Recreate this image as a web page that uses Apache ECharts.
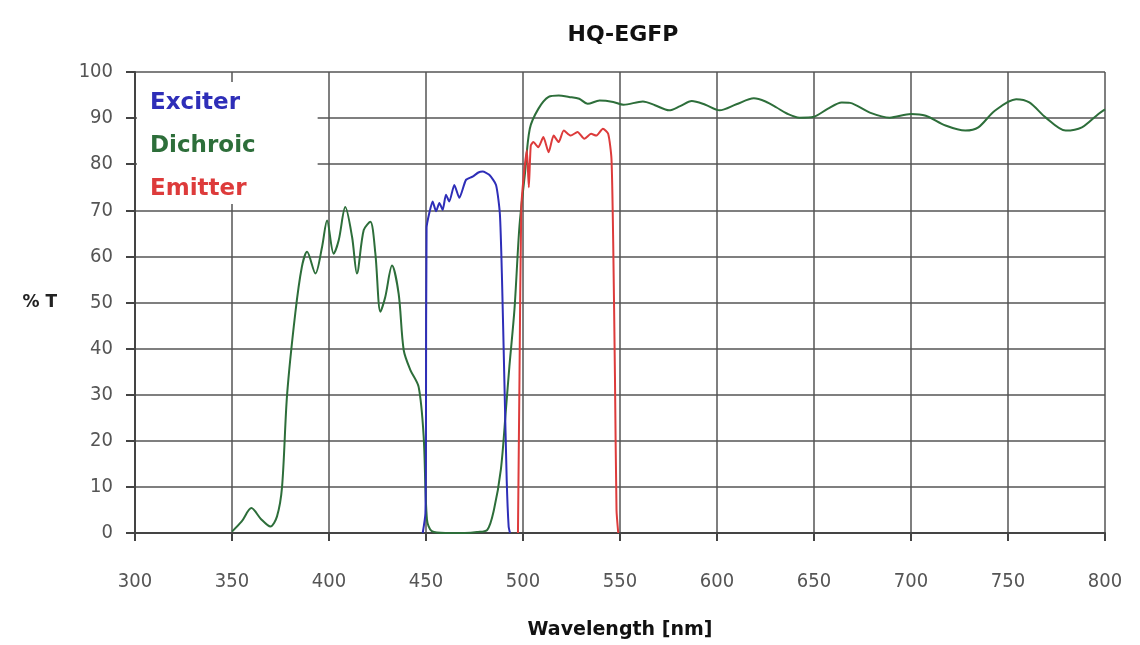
<!DOCTYPE html>
<html>
<head>
<meta charset="utf-8">
<script src="https://cdn.jsdelivr.net/npm/echarts@6/dist/echarts.min.js"></script>
<style>html,body{margin:0;padding:0;background:#fff}#chart{width:1140px;height:645px}</style>
</head>
<body>
<div id="chart"></div>
<script>
const xTicks = [300,350,400,450,500,550,600,650,700,750,800];
const yTicks = [0,10,20,30,40,50,60,70,80,90,100];

const dichroicWl = [350,355,360,365,369.8,373.2,375.8,378.4,382.6,386,388.7,393,396.4,399,402.4,405,408.4,411.9,414.4,417.9,421.3,423.9,426.5,429,432.5,435.9,438.5,441.9,446.2,448.8,450.5,453,460,470,476.3,481.6,485,488.6,491.2,493,495.6,498.2,500.9,503.5,507.9,513.2,518.4,523.7,529,533.3,539.5,546.5,551.8,561.8,568,575.3,581,587,594,601.3,610,619,625,630.7,636,642.5,650,657,664.3,668.6,678.8,689,700,707.6,717.8,728,734.7,743.2,754.2,761,769.5,779.7,788.1,796.6,800];
const dichroicT = [0.3,2.5,5.4,3.0,1.4,3.6,10,30,47.6,57.7,61,56.3,62,67.8,60.6,63.5,70.7,64.2,56.3,65.7,67.5,60.6,48,51.2,58,51.9,39.7,35.4,31.7,20.9,2.9,0.4,0,0,0.2,0.7,5,13.8,26.8,36.2,48.5,66.7,77.5,87.7,92,94.6,94.9,94.6,94.2,93.1,93.8,93.5,92.9,93.6,92.8,91.7,92.6,93.7,92.9,91.7,93,94.3,93.6,92.3,91,90.1,90.3,92,93.4,93.3,91.2,90.1,90.9,90.5,88.4,87.3,88,91.6,94.1,93.4,90.1,87.3,88,90.9,91.9];

const exciterWl = [448.3,449.7,450,450.3,451.7,453.4,455.2,456.9,458.6,460.3,462,464.6,467.2,470.6,474,477,479.2,482.6,486.1,488.1,489.2,490.4,491.6,492.6,493.3];
const exciterT = [0,4.3,25.9,66.2,69.4,71.9,69.8,71.6,70.1,73.4,71.9,75.5,72.7,76.6,77.3,78.2,78.4,77.7,75.5,69.1,54.7,33.1,11.5,1.4,0];

const emitterWl = [497.4,498.2,499.1,500.5,502,503,504,505.3,507.9,510.5,513.2,515.8,518.4,521,524.6,528.1,531.6,535.1,537.7,541.2,543.9,545.6,546.5,547.4,548.2,549.1];
const emitterT = [0,34,70.3,78,83,75,84,84.8,83.7,85.9,82.6,86.2,84.8,87.3,86.2,87,85.5,86.6,86.2,87.7,86.6,81.2,63,34,5,0];

const seriesNames = ['Exciter','Dichroic','Emitter'];
const seriesColors = ['#2e2eb8','#2d6e3a','#dd3b3b'];

const zip = (a,b) => a.map((v,i)=>[v,b[i]]);

const chart = echarts.init(document.getElementById('chart'), null, {renderer:'canvas'});
const labelFont = '"DejaVu Sans Condensed","DejaVu Sans",sans-serif';
const boldFont = '"DejaVu Sans",sans-serif';
chart.setOption({
  animation:false,
  backgroundColor:'#fff',
  title:{text:'HQ-EGFP',left:618,textAlign:'center',top:19,textStyle:{fontFamily:boldFont,fontWeight:'bold',fontSize:22,color:'#111'}},
  grid:{left:135,right:35,top:72,bottom:107},
  legend:{
    orient:'vertical',left:137,top:82,
    backgroundColor:'#fff',padding:[10,62,3,8],itemGap:20,
    itemWidth:0,itemHeight:0,icon:'rect',
    data:seriesNames.map((n,i)=>({name:n,textStyle:{color:seriesColors[i]}})),
    textStyle:{fontFamily:boldFont,fontWeight:'bold',fontSize:23}
  },
  xAxis:{
    type:'value',min:xTicks[0],max:xTicks[xTicks.length-1],interval:50,
    name:'Wavelength [nm]',nameLocation:'middle',nameGap:88,
    nameTextStyle:{fontFamily:boldFont,fontWeight:'bold',fontSize:19,color:'#111'},
    axisLine:{lineStyle:{color:'#444',width:2}},
    axisTick:{show:true,length:8,lineStyle:{color:'#444',width:2}},
    axisLabel:{margin:39,fontFamily:labelFont,fontSize:20,color:'#555'},
    splitLine:{show:true,lineStyle:{color:'#555',width:1.5}}
  },
  yAxis:{
    type:'value',min:yTicks[0],max:yTicks[yTicks.length-1],interval:10,
    name:'% T',nameLocation:'middle',nameGap:78,nameRotate:0,
    nameTextStyle:{fontFamily:boldFont,fontWeight:'bold',fontSize:17,color:'#222'},
    axisLine:{show:true,lineStyle:{color:'#444',width:2}},
    axisTick:{show:true,length:9,lineStyle:{color:'#444',width:2}},
    axisLabel:{margin:22,fontFamily:labelFont,fontSize:20,color:'#555'},
    splitLine:{show:true,lineStyle:{color:'#555',width:1.5}}
  },
  series:[
    {name:'Exciter',type:'line',data:zip(exciterWl,exciterT),showSymbol:false,smooth:0.2,lineStyle:{color:seriesColors[0],width:2},itemStyle:{color:seriesColors[0]},z:3},
    {name:'Dichroic',type:'line',data:zip(dichroicWl,dichroicT),showSymbol:false,smooth:0.3,lineStyle:{color:seriesColors[1],width:2},itemStyle:{color:seriesColors[1]},z:2},
    {name:'Emitter',type:'line',data:zip(emitterWl,emitterT),showSymbol:false,smooth:0.2,lineStyle:{color:seriesColors[2],width:2},itemStyle:{color:seriesColors[2]},z:4}
  ]
});
</script>
</body>
</html>
